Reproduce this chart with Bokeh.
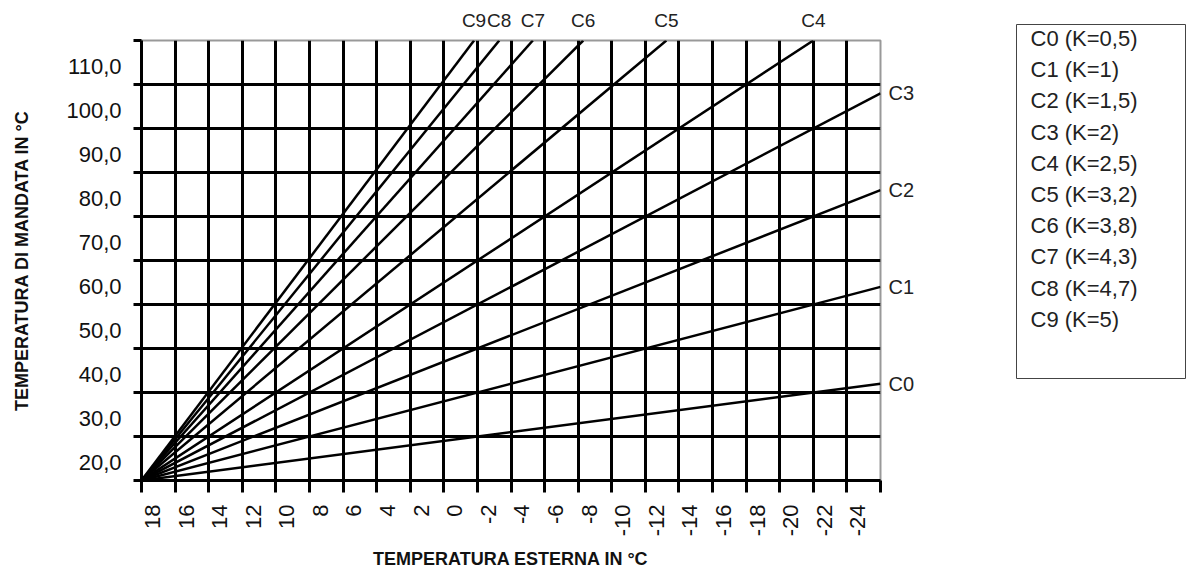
import math
from bokeh.plotting import figure
from bokeh.models import (Range1d, LinearAxis, FixedTicker, Grid,
                          CustomJSTickFormatter)
from bokeh.layouts import row
from bokeh.embed import file_html
from bokeh.resources import INLINE
from bokeh.core.properties import value

# ---------------- data ----------------
curve_names = ["C0", "C1", "C2", "C3", "C4", "C5", "C6", "C7", "C8", "C9"]
legend_labels = ["C0 (K=0,5)", "C1 (K=1)", "C2 (K=1,5)", "C3 (K=2)", "C4 (K=2,5)",
                 "C5 (K=3,2)", "C6 (K=3,8)", "C7 (K=4,3)", "C8 (K=4,7)", "C9 (K=5)"]
start_te = 20          # external temperature where all curves start
start_t = 20           # flow temperature where all curves start
end_te = [-24, -24, -24, -24, -20, -11.25, -6.3, -3.3, -1.3, 0.2]
end_t = [42, 64, 86, 108, 120, 120, 120, 120, 120, 120]

x_ticks = [20, 18, 16, 14, 12, 10, 8, 6, 4, 2, 0, -2, -4, -6, -8, -10,
           -12, -14, -16, -18, -20, -22, -24]
x_tick_labels = ["20", "18", "16", "14", "12", "10", "8", "6", "4", "2", "0", "-2",
                 "-4", "-6", "-8", "-10", "-12", "-14", "-16", "-18", "-20", "-22", "-24"]
y_ticks = [20, 30, 40, 50, 60, 70, 80, 90, 100, 110, 120]
y_tick_labels = ["20,0", "30,0", "40,0", "50,0", "60,0", "70,0", "80,0", "90,0",
                 "100,0", "110,0", "120,0"]

x_title = "TEMPERATURA ESTERNA IN °C"
y_title = "TEMPERATURA DI MANDATA IN °C"

FONT = "Liberation Sans"

# ---------------- main chart ----------------
p = figure(title=None, frame_width=739, frame_height=440,
           min_border_left=141, min_border_right=128,
           min_border_top=40, min_border_bottom=92,
           x_range=Range1d(x_ticks[0], x_ticks[-1]),
           y_range=Range1d(y_ticks[0], y_ticks[-1]),
           x_axis_location=None, y_axis_location=None,
           output_backend="svg", toolbar_location=None)
p.frame_align = False
p.outline_line_color = "#999999"
p.outline_line_width = 2
p.background_fill_color = "white"
p.border_fill_color = "white"

# grid lines (interior only; frame edges are axis / outline)
p.add_layout(Grid(dimension=0, ticker=FixedTicker(ticks=x_ticks[1:-1]),
                  grid_line_color="black", grid_line_width=3))
p.add_layout(Grid(dimension=1, ticker=FixedTicker(ticks=y_ticks[1:-1]),
                  grid_line_color="black", grid_line_width=3))

empty_fmt = CustomJSTickFormatter(code="return ''")

# x axis: tick marks
ax_xt = LinearAxis(ticker=FixedTicker(ticks=x_ticks), formatter=empty_fmt,
                   major_label_text_font_size="1px", major_label_standoff=0,
                   major_tick_out=12, major_tick_in=0, major_tick_line_width=3,
                   major_tick_line_color="black", minor_tick_line_color=None,
                   axis_line_color="black", axis_line_width=3)
p.add_layout(ax_xt, "below")

# x axis: labels (shifted like in the reference)
p.extra_x_ranges = {"xlab": Range1d(x_ticks[0] - 1.35, x_ticks[-1] - 1.35)}
ax_xl = LinearAxis(x_range_name="xlab", ticker=FixedTicker(ticks=x_ticks),
                   major_label_overrides={v: s for v, s in zip(x_ticks, x_tick_labels)},
                   major_label_orientation=math.pi / 2,
                   major_label_standoff=6,
                   major_label_text_font=FONT, major_label_text_font_size="22px",
                   major_label_text_color="#111111",
                   major_tick_line_color=None, minor_tick_line_color=None,
                   axis_line_color=None,
                   axis_label=x_title, axis_label_text_font=FONT,
                   axis_label_text_font_style="bold", axis_label_text_font_size="18px",
                   axis_label_text_color="#111111", axis_label_standoff=10)
p.add_layout(ax_xl, "below")

# y axis: tick marks
ax_yt = LinearAxis(ticker=FixedTicker(ticks=y_ticks), formatter=empty_fmt,
                   major_label_text_font_size="1px", major_label_standoff=0,
                   major_tick_out=8, major_tick_in=0, major_tick_line_width=3,
                   major_tick_line_color="black", minor_tick_line_color=None,
                   axis_line_color="black", axis_line_width=3)
p.add_layout(ax_yt, "left")

# y axis: labels (shifted like in the reference)
p.extra_y_ranges = {"ylab": Range1d(y_ticks[0] - 4, y_ticks[-1] - 4)}
ax_yl = LinearAxis(y_range_name="ylab", ticker=FixedTicker(ticks=y_ticks),
                   major_label_overrides={v: s for v, s in zip(y_ticks, y_tick_labels)},
                   major_label_standoff=6,
                   major_label_text_font=FONT, major_label_text_font_size="22px",
                   major_label_text_color="#111111",
                   major_tick_line_color=None, minor_tick_line_color=None,
                   axis_line_color=None,
                   axis_label=y_title, axis_label_text_font=FONT,
                   axis_label_text_font_style="bold", axis_label_text_font_size="18px",
                   axis_label_text_color="#111111", axis_label_standoff=31)
p.add_layout(ax_yl, "left")

# curves
for i, name in enumerate(curve_names):
    p.line([start_te, end_te[i]], [start_t, end_t[i]],
           line_color="black", line_width=2.5)

# curve names at the line ends: top edge (curves reaching the top) ...
top_idx = [i for i in range(len(curve_names)) if end_t[i] >= y_ticks[-1]]
ax_top = LinearAxis(ticker=FixedTicker(ticks=[end_te[i] for i in top_idx]),
                    major_label_overrides={end_te[i]: curve_names[i] for i in top_idx},
                    major_label_standoff=4,
                    major_label_text_font=FONT, major_label_text_font_size="19px",
                    major_label_text_color="#222222",
                    major_tick_line_color=None, minor_tick_line_color=None,
                    axis_line_color=None)
p.add_layout(ax_top, "above")

# ... and right edge (curves reaching the right side)
right_idx = [i for i in range(len(curve_names)) if end_t[i] < y_ticks[-1]]
ax_right = LinearAxis(ticker=FixedTicker(ticks=[end_t[i] for i in right_idx]),
                      major_label_overrides={end_t[i]: curve_names[i] for i in right_idx},
                      major_label_standoff=2,
                      major_label_text_font=FONT, major_label_text_font_size="20px",
                      major_label_text_color="#222222",
                      major_tick_line_color=None, minor_tick_line_color=None,
                      axis_line_color=None)
p.add_layout(ax_right, "right")

# ---------------- legend box ----------------
leg = figure(title=None, frame_width=169, frame_height=354,
             min_border_left=8, min_border_right=9,
             min_border_top=24, min_border_bottom=194,
             x_range=Range1d(0, 169), y_range=Range1d(354, 0),
             x_axis_location=None, y_axis_location=None,
             output_backend="svg", toolbar_location=None)
leg.frame_align = False
leg.outline_line_color = "#444444"
leg.outline_line_width = 1
leg.xgrid.visible = False
leg.ygrid.visible = False
leg.text(x=[14] * len(legend_labels),
         y=[14 + 31.2 * i for i in range(len(legend_labels))],
         text=legend_labels, text_font=value(FONT), text_font_size="22px",
         text_baseline="middle", text_align="left", text_color="#222222")

layout = row(p, leg)
open("out.html", "w").write(file_html(layout, INLINE))
